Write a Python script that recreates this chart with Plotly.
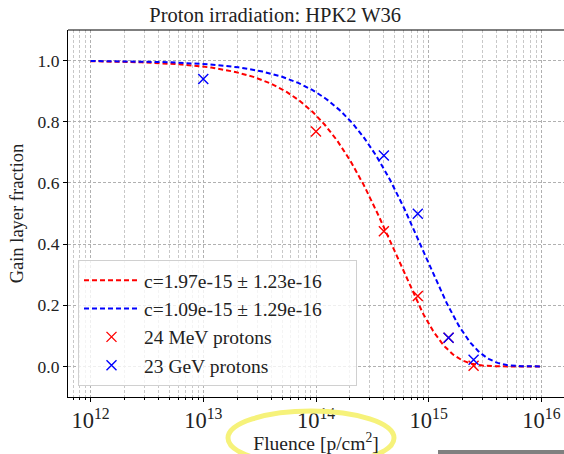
import numpy as np
import plotly.graph_objects as go

# ---- data ----
fit_c = [1.97e-15, 1.09e-15]
fit_err = [1.23e-16, 1.29e-16]
fit_colors = ["red", "blue"]
fit_range = [1e12, 1e16]

fluence_24mev = [1e14, 4e14, 8e14, 1.5e15, 2.5e15]
frac_24mev = [0.768, 0.442, 0.23, 0.094, 0.002]
fluence_23gev = [1e13, 4e14, 8e14, 1.5e15, 2.5e15]
frac_23gev = [0.94, 0.69, 0.499, 0.094, 0.022]

W, H = 564, 454
ML, MR, MT, MB = 68, 0, 30, 57
PW, PH = W - ML - MR, H - MT - MB

def px(x):
    return (x - ML) / PW

def py(y):
    return (H - MB - y) / PH

FONT = "Liberation Serif"
TXT = "#222"

fig = go.Figure()
phi = np.logspace(np.log10(fit_range[0]), np.log10(fit_range[1]), 300)
for c, e, col in zip(fit_c, fit_err, fit_colors):
    fig.add_trace(go.Scatter(
        x=phi, y=np.exp(-c * phi), mode="lines",
        line=dict(color=col, width=2, dash="5px,3px"),
        name=f"c={c:.2e} ± {e:.2e}\u2003\u2002",
    ))
fig.add_trace(go.Scatter(
    x=fluence_24mev, y=frac_24mev, mode="markers",
    marker=dict(symbol="x-thin-open", size=10, line=dict(color="red", width=1.4), color="red"),
    name="24 MeV protons",
))
fig.add_trace(go.Scatter(
    x=fluence_23gev, y=frac_23gev, mode="markers",
    marker=dict(symbol="x-thin-open", size=10, line=dict(color="blue", width=1.4), color="blue"),
    name="23 GeV protons",
))

grid = dict(gridcolor="#b0b0b0", griddash="3px,2px", gridwidth=0.8)

fig.update_xaxes(
    type="log", range=[11.8, 16.2], dtick=1, exponentformat="power",
    showline=True, linecolor="black", linewidth=1.2,
    ticks="outside", ticklen=4, tickcolor="black",
    showgrid=True, **grid,
    minor=dict(dtick="D1", ticks="outside", ticklen=2, tickcolor="black",
               showgrid=True, gridcolor="#c8c8c8", griddash="3px,2px", gridwidth=0.8),
    title=dict(text="Fluence [p/cm<sup>2</sup>]", font=dict(size=19.5, family=FONT, color=TXT), standoff=5),
    tickfont=dict(size=18, family=FONT, color=TXT),
    zeroline=False,
)
fig.update_yaxes(
    range=[-0.1, 1.1], tickvals=[0, 0.2, 0.4, 0.6, 0.8, 1.0],
    ticktext=["0.0", "0.2", "0.4", "0.6", "0.8", "1.0"],
    showline=True, linecolor="black", linewidth=1.2,
    ticks="outside", ticklen=4, tickcolor="black",
    showgrid=True, **grid, zeroline=False,
    title=dict(text="Gain layer fraction", font=dict(size=18.5, family=FONT, color=TXT), standoff=9),
    tickfont=dict(size=17.5, family=FONT, color=TXT),
)

fig.update_layout(
    width=W, height=H,
    margin=dict(l=ML, r=MR, t=MT, b=MB),
    paper_bgcolor="white", plot_bgcolor="white",
    font=dict(family=FONT, color=TXT),
    title=dict(text="Proton irradiation: HPK2 W36", x=px(310), xanchor="center",
               y=1 - 15 / H, yanchor="middle",
               font=dict(size=20.5, family=FONT, color=TXT)),
    legend=dict(x=px(78), y=py(386), xanchor="left", yanchor="bottom",
                bgcolor="rgba(255,255,255,0.8)", bordercolor="#d0d0d0", borderwidth=1,
                font=dict(size=19.5, family=FONT, color=TXT),
                itemwidth=55),
    showlegend=True,
    shapes=[
        dict(type="line", xref="paper", yref="paper", x0=0, x1=1, y0=1, y1=1,
             line=dict(color="black", width=1.2)),
        dict(type="circle", xref="paper", yref="paper",
             x0=px(228), x1=px(394), y0=py(411), y1=py(465),
             line=dict(color="#f6f27a", width=5)),
        dict(type="rect", xref="paper", yref="paper",
             x0=px(438), x1=px(564), y0=py(450), y1=py(454),
             line=dict(width=0), fillcolor="#808080"),
    ],
)

fig.write_html("out.html")
